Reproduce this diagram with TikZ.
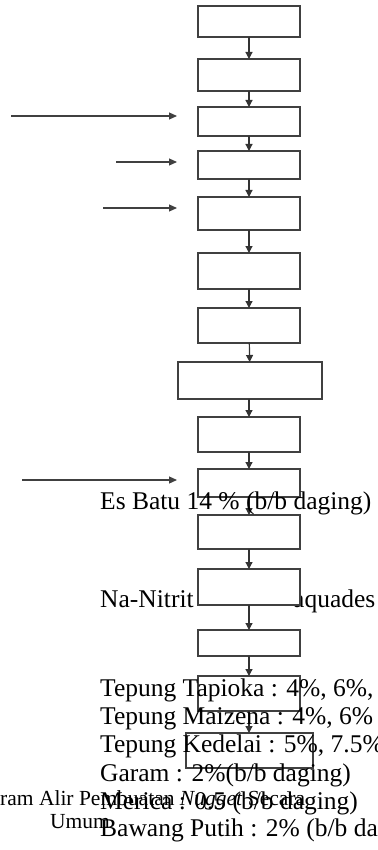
\documentclass[tikz,border=0pt]{standalone}
\usepackage{fontspec}
\setmainfont{Liberation Serif}
\usetikzlibrary{arrows.meta}
\tikzset{
  box/.style={draw=black!75, line width=1.3pt, inner sep=0pt, outer sep=0pt, minimum width=102pt},
  flow/.style={draw=black!80, line width=1.2pt, -{Triangle[length=7pt,width=7pt]}},
  feed/.style={draw=black!75, line width=1.2pt, -{Triangle[length=8pt,width=7pt]}},
  lbl/.style={anchor=base west, inner sep=0pt, font=\fontsize{25.5}{28}\selectfont},
  captext/.style={anchor=base west, inner sep=0pt, font=\fontsize{21.5}{24}\selectfont}
}
\begin{document}
\begin{tikzpicture}[x=1pt,y=-1pt]
\useasboundingbox (0,0) rectangle (377,850);
% boxes
\node[box, minimum height=31pt] (b1) at (249,21.5) {};
\node[box, minimum height=32pt] (b2) at (249,75) {};
\node[box, minimum height=29pt] (b3) at (249,121.5) {};
\node[box, minimum height=28pt] (b4) at (249,165) {};
\node[box, minimum height=33pt] (b5) at (249,213.5) {};
\node[box, minimum height=36pt] (b6) at (249,271) {};
\node[box, minimum height=35pt] (b7) at (249,325.5) {};
\node[box, minimum height=37pt, minimum width=144pt] (b8) at (250,380.5) {};
\node[box, minimum height=35pt] (b9) at (249,434.5) {};
\node[box, minimum height=28pt] (b10) at (249,483) {};
\node[box, minimum height=34pt] (b11) at (249,532) {};
\node[box, minimum height=26pt] (b13) at (249,643) {};
\node[box, minimum height=35pt] (b14) at (249,693.5) {};
\node[box, minimum height=35pt, minimum width=127pt] (b15) at (249.5,750.5) {};
% vertical flow
\draw[flow] (b1) -- (b2);
\draw[flow] (b2) -- (b3);
\draw[flow] (b3) -- (b4);
\draw[flow] (b4) -- (b5);
\draw[flow] (b5) -- (b6);
\draw[flow] (b6) -- (b7);
\draw[flow] (b7) -- (b8);
\draw[flow] (b8.south -| b9) -- (b9);
\draw[flow] (b9) -- (b10);
\draw[flow] (b10) -- (b11);
\draw[flow] (b13) -- (b14);
\draw[flow] (b14) -- (b15.north -| b14);
% side inputs
\coordinate (i1) at (11,116);
\coordinate (i2) at (116,162);
\coordinate (i3) at (103,208);
\coordinate (i4) at (22,480);
\coordinate (t1) at (177,116);
\coordinate (t2) at (177,162);
\coordinate (t3) at (177,208);
\coordinate (t4) at (177,480);
\draw[feed] (i1) -- (t1);
\draw[feed] (i2) -- (t2);
\draw[feed] (i3) -- (t3);
\draw[feed] (i4) -- (t4);
% texts
\node[lbl] (es) at (100,509) {Es Batu 14 \% (b/b daging)};
\node[lbl] (na1) at (100,607) {Na-Nitrit};
\node[lbl] (na2) at (293,607) {aquades};
\node[box, minimum height=36pt, fill=white] (b12) at (249,587) {};
\draw[flow] (b11) -- (b12);
\draw[flow] (b12) -- (b13);
\node[lbl] (tp) at (100,696) {Tepung Tapioka : 4\%, 6\%,};
\node[lbl] (tm) at (100,724) {Tepung Maizena : 4\%, 6\%};
\node[lbl] (tk) at (100,752) {Tepung Kedelai : 5\%, 7.5\%};
\node[lbl] (gr) at (100,781) {Garam : 2\%(b/b daging)};
\node[lbl] (mr) at (100,809) {Merica : 0.5 (b/b daging)};
\node[lbl] (bp) at (100,836) {Bawang Putih : 2\% (b/b da};
\node[captext] (c1) at (0,805) {ram Alir Pembuatan \textit{Nugget} Secara};
\node[captext] (c2) at (50,828) {Umum};
\end{tikzpicture}
\end{document}
